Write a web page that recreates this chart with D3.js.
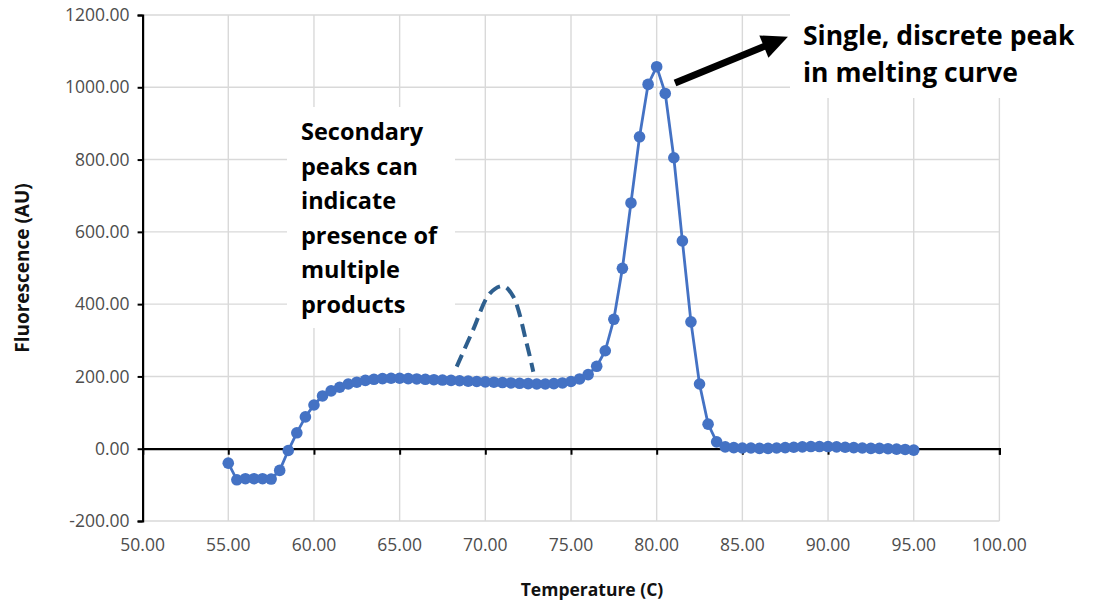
<!DOCTYPE html>
<html><head><meta charset="utf-8">
<script src="https://cdn.jsdelivr.net/npm/d3@7"></script>
<style>
html,body{margin:0;padding:0;background:#fff;}
svg{display:block;}
</style></head>
<body>
<svg id="chart" width="1100" height="606"></svg>
<script>
// ---- data ----
const temperatures = [55,55.5,56,56.5,57,57.5,58,58.5,59,59.5,60,60.5,61,61.5,62,62.5,63,63.5,64,64.5,
  65,65.5,66,66.5,67,67.5,68,68.5,69,69.5,70,70.5,71,71.5,72,72.5,73,73.5,74,74.5,
  75,75.5,76,76.5,77,77.5,78,78.5,79,79.5,80,80.5,81,81.5,82,82.5,83,83.5,84,84.5,
  85,85.5,86,86.5,87,87.5,88,88.5,89,89.5,90,90.5,91,91.5,92,92.5,93,93.5,94,94.5,95];
const fluorescence = [-40,-86,-83,-83,-83,-84,-60,-5,44,88,121,146,160,170,179,184,189,192,194,195,
  195,194,193,192,191,190,189,188,187,186,185,184,183,182,181,180,179,179,180,182,
  186,193,205,228,271,358,499,680,863,1008,1057,983,805,575,351,179,68,19,5,3,
  2,2,1,1,2,3,4,5,6,6,6,5,4,3,2,1,1,0,-1,-2,-4];
const xTicks = [50,55,60,65,70,75,80,85,90,95,100];
const yTicks = [-200,0,200,400,600,800,1000,1200];
// hand-drawn secondary peak (dashed)
const secondaryPeakT = [68.33,69.28,70.27,71.05,71.63,72.41,72.8];
const secondaryPeakV = [227,328,430,450,421,292,213];
// arrow from peak to label (data coords)
const arrowFrom = [81.07,1012];
const arrowTo = [87.66,1140];
const secondaryText = ["Secondary","peaks can","indicate","presence of","multiple","products"];
const singleText = ["Single, discrete peak","in melting curve"];

// ---- layout ----
const svg = d3.select("#chart");
const X0 = 142.6, X1 = 999.4, YT = 15, YB = 521;
const x = d3.scaleLinear().domain([50,100]).range([X0,X1]);
const y = d3.scaleLinear().domain([-200,1200]).range([YB,YT]);
const tickFont = "'Open Sans', 'DejaVu Sans', sans-serif";
const fmt = d => d3.format(".2f")(d).replace("\u2212","-");

// gridlines
const grid = svg.append("g").attr("stroke","#d9d9d9").attr("stroke-width",1.4);
grid.selectAll(".gx").data(xTicks.filter(d=>d>50)).enter().append("line")
  .attr("x1",d=>x(d)).attr("x2",d=>x(d)).attr("y1",YT).attr("y2",YB);
grid.selectAll(".gy").data(yTicks.filter(d=>d!==0)).enter().append("line")
  .attr("x1",X0).attr("x2",X1).attr("y1",d=>y(d)).attr("y2",d=>y(d));

// white annotation boxes (hide gridlines behind text)
svg.append("rect").attr("x",287).attr("y",107).attr("width",168).attr("height",221).attr("fill","#fff");
svg.append("rect").attr("x",790).attr("y",0).attr("width",310).attr("height",98).attr("fill","#fff");

// y axis
const yAxis = d3.axisLeft(y).tickValues(yTicks).tickSize(5).tickPadding(8).tickFormat(fmt);
const gy = svg.append("g").attr("transform",`translate(${X0},0)`).call(yAxis);
gy.attr("font-size",null).attr("font-family",null);
gy.select(".domain").attr("stroke","#000").attr("stroke-width",2.2);
gy.selectAll(".tick line").attr("stroke","#000").attr("stroke-width",2);
gy.selectAll(".tick text").style("font-family",tickFont).style("font-size","17.5px").attr("fill","#4d4d4d");

// x axis line at y=0 with ticks
const xAxis = d3.axisBottom(x).tickValues(xTicks).tickSize(6).tickFormat("");
const gx = svg.append("g").attr("transform",`translate(0,${y(0)})`).call(xAxis);
gx.select(".domain").attr("stroke","#000").attr("stroke-width",2.2);
gx.selectAll(".tick line").attr("stroke","#000").attr("stroke-width",2);
// x labels at bottom (low position)
svg.append("g").selectAll("text").data(xTicks).enter().append("text")
  .attr("x",d=>x(d)).attr("y",YB+24).attr("dy","0.35em").attr("text-anchor","middle")
  .style("font-family",tickFont).style("font-size","17.5px").attr("fill","#4d4d4d")
  .text(fmt);

// axis titles
svg.append("text").attr("x",592).attr("y",590).attr("dy","0.35em").attr("text-anchor","middle")
  .attr("font-family",tickFont).attr("font-weight","bold").attr("font-size",17.5).attr("fill","#111")
  .text("Temperature (C)");
svg.append("text").attr("transform",`translate(22,${(YT+YB)/2}) rotate(-90)`).attr("dy","0.35em")
  .attr("text-anchor","middle").attr("font-family",tickFont).attr("font-weight","bold")
  .attr("font-size",19).attr("fill","#111").text("Fluorescence (AU)");

// data series
const data = temperatures.map((t,i)=>({t, v: fluorescence[i]}));
const line = d3.line().x(d=>x(d.t)).y(d=>y(d.v));
svg.append("path").datum(data).attr("d",line).attr("fill","none")
  .attr("stroke","#4472C4").attr("stroke-width",2.8);
svg.append("g").selectAll("circle").data(data).enter().append("circle")
  .attr("cx",d=>x(d.t)).attr("cy",d=>y(d.v)).attr("r",5.8).attr("fill","#4472C4");

// dashed secondary peak
const sp = secondaryPeakT.map((t,i)=>({t, v: secondaryPeakV[i]}));
svg.append("path").datum(sp).attr("d",d3.line().x(d=>x(d.t)).y(d=>y(d.v)).curve(d3.curveCatmullRom.alpha(0.5)))
  .attr("fill","none").attr("stroke","#2E5F8E").attr("stroke-width",4)
  .attr("stroke-dasharray","13,7");

// arrow
const ax1 = x(arrowFrom[0]), ay1 = y(arrowFrom[1]), ax2 = x(arrowTo[0]), ay2 = y(arrowTo[1]);
const ang = Math.atan2(ay2-ay1, ax2-ax1);
const headL = 26, headW = 12;
const bx = ax2 - headL*Math.cos(ang), by = ay2 - headL*Math.sin(ang);
svg.append("line").attr("x1",ax1).attr("y1",ay1).attr("x2",bx+2*Math.cos(ang)).attr("y2",by+2*Math.sin(ang))
  .attr("stroke","#000").attr("stroke-width",7);
svg.append("polygon").attr("fill","#000").attr("points",[
  [ax2,ay2],
  [bx - headW*Math.sin(ang), by + headW*Math.cos(ang)],
  [bx + headW*Math.sin(ang), by - headW*Math.cos(ang)]
].map(p=>p.join(",")).join(" "));

// annotation texts
svg.append("g").selectAll("text").data(secondaryText).enter().append("text")
  .attr("x",301).attr("y",(d,i)=>140+i*34.5)
  .attr("font-family",tickFont).attr("font-weight","bold").attr("font-size",23.5).attr("fill","#000")
  .text(d=>d);
svg.append("g").selectAll("text").data(singleText).enter().append("text")
  .attr("x",803).attr("y",(d,i)=>45+i*37)
  .attr("font-family",tickFont).attr("font-weight","bold").attr("font-size",26.5).attr("fill","#000")
  .text(d=>d);
</script>
</body></html>
